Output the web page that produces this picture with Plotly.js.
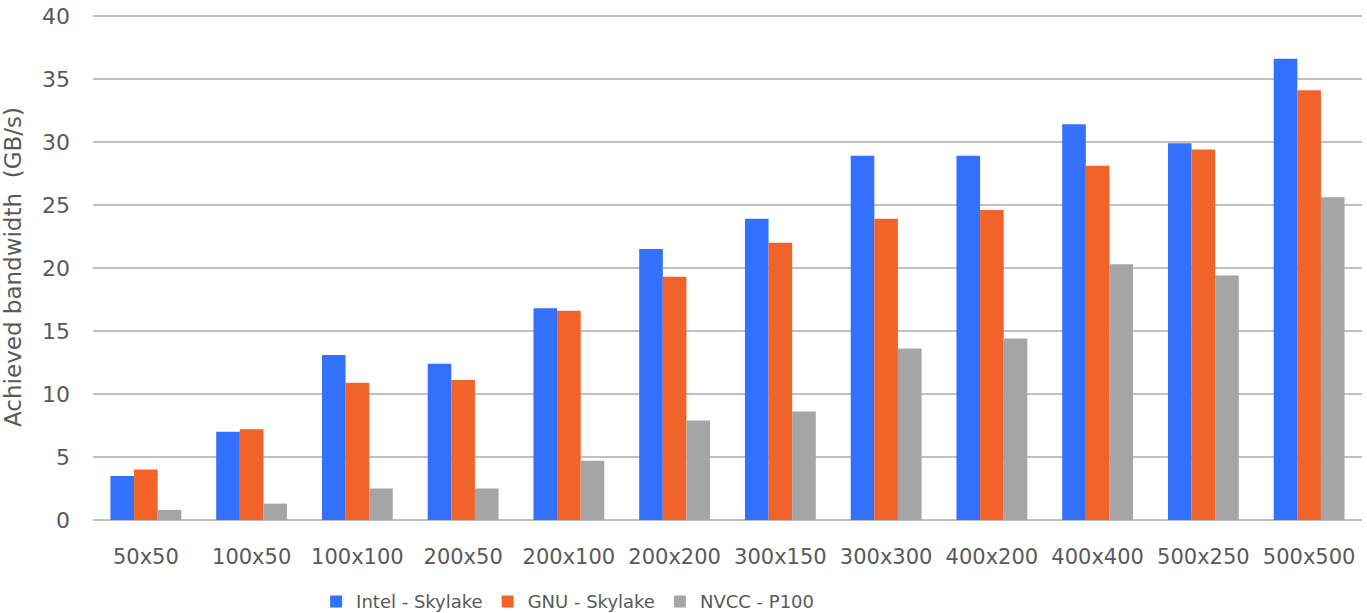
<!DOCTYPE html>
<html>
<head>
<meta charset="utf-8">
<script src="https://cdn.plot.ly/plotly-3.0.1.min.js"></script>
<style>
  html, body { margin: 0; padding: 0; background: #fff; }
  #chart { width: 1367px; height: 613px; }
</style>
</head>
<body>
<div id="chart"></div>
<script>
// grid sizes on the x axis
var sizes = ['50x50', '100x50', '100x100', '200x50', '200x100', '200x200',
             '300x150', '300x300', '400x200', '400x400', '500x250', '500x500'];

// achieved bandwidth (GB/s) per compiler / device
var intelSkylake = [3.5, 7.0, 13.1, 12.4, 16.8, 21.5, 23.9, 28.9, 28.9, 31.4, 29.9, 36.6];
var gnuSkylake   = [4.0, 7.2, 10.9, 11.1, 16.6, 19.3, 22.0, 23.9, 24.6, 28.1, 29.4, 34.1];
var nvccP100     = [0.8, 1.3, 2.5, 2.5, 4.7, 7.9, 8.6, 13.6, 14.4, 20.3, 19.4, 25.6];

var yTicks = [0, 5, 10, 15, 20, 25, 30, 35, 40];

var data = [{
    x: sizes,
    y: intelSkylake,
    name: 'Intel - Skylake',
    type: 'bar',
    marker: { color: '#3370fb' }
}, {
    x: sizes,
    y: gnuSkylake,
    name: 'GNU - Skylake',
    type: 'bar',
    marker: { color: '#f26329' }
}, {
    x: sizes,
    y: nvccP100,
    name: 'NVCC - P100',
    type: 'bar',
    marker: { color: '#a5a5a5' }
}];

var layout = {
    width: 1367,
    height: 613,
    margin: { l: 93, r: 5, t: 14, b: 93, autoexpand: false },
    paper_bgcolor: '#fff',
    plot_bgcolor: '#fff',
    font: { family: 'DejaVu Sans, sans-serif', size: 21, color: '#595959' },
    barmode: 'group',
    bargap: 0.33,
    bargroupgap: 0,
    showlegend: true,
    legend: {
        orientation: 'h',
        x: 0.374,
        xanchor: 'center',
        y: -0.125,
        yanchor: 'top',
        font: { size: 18, color: '#595959' },
        itemwidth: 30,
        tracegroupgap: 0
    },
    xaxis: {
        showgrid: false,
        zeroline: false,
        showline: false,
        ticks: '',
        tickangle: 0,
        tickfont: { size: 21 },
        ticklabelstandoff: 22
    },
    yaxis: {
        range: [0, 40.15],
        tickvals: yTicks,
        ticktext: yTicks.map(String),
        showgrid: true,
        gridcolor: '#c0c0c0',
        gridwidth: 2.5,
        zeroline: true,
        zerolinecolor: '#c0c0c0',
        zerolinewidth: 2.5,
        showline: false,
        ticks: '',
        tickfont: { size: 22 },
        ticklabelstandoff: 22,
        title: { text: 'Achieved bandwidth  (GB/s)', font: { size: 23, color: '#595959' }, standoff: 14 }
    }
};

Plotly.newPlot('chart', data, layout, { displayModeBar: false, staticPlot: true });
</script>
</body>
</html>
